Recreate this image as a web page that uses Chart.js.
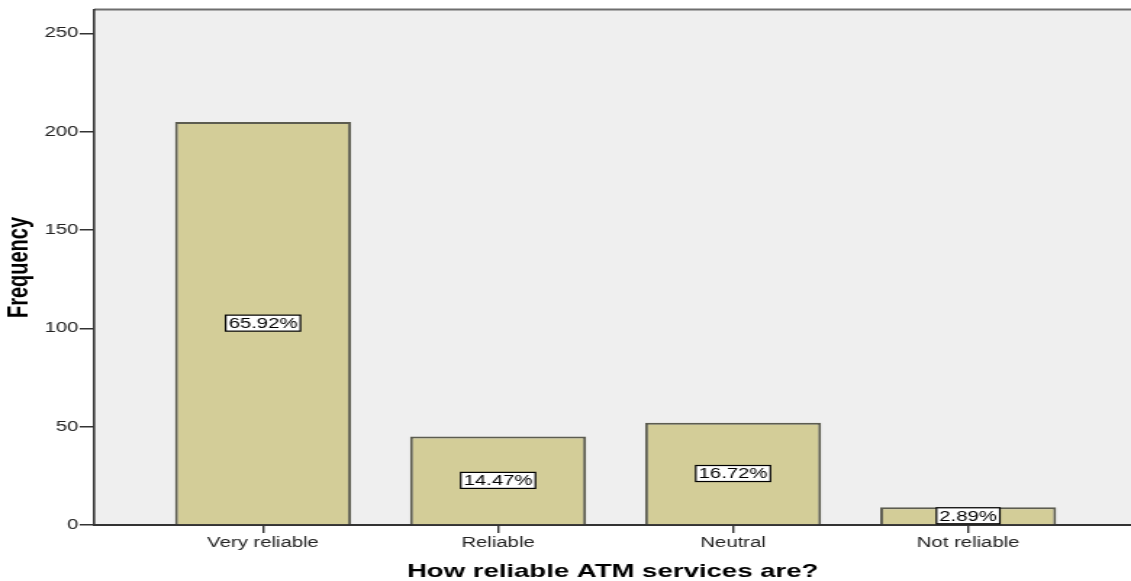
<!DOCTYPE html>
<html>
<head>
<meta charset="utf-8">
<script src="https://cdn.jsdelivr.net/npm/chart.js@4/dist/chart.umd.min.js"></script>
<style>
  html, body { margin: 0; padding: 0; background: #fff; overflow: hidden; }
  #wrap { width: 1131px; height: 581px; overflow: hidden; }
  /* the chart is laid out narrow and stretched sideways, like the exported figure */
  #chart { display: block; transform: scaleX(1.45); transform-origin: 0 0; }
</style>
</head>
<body>
<div id="wrap"><canvas id="chart" width="780" height="581"></canvas></div>
<script>
const categories = ["Very reliable", "Reliable", "Neutral", "Not reliable"];
const frequencies = [205, 45, 52, 9];
const yTicks = [0, 50, 100, 150, 200, 250];

const total = frequencies.reduce((a, b) => a + b, 0);
const percents = frequencies.map(v => (v / total * 100).toFixed(2) + "%");

const FONT = "'Liberation Sans', Arial, sans-serif";

// grey plot panel with a dark top rule
const panel = {
  id: "panel",
  beforeDraw(chart) {
    const { ctx, chartArea: a } = chart;
    ctx.save();
    ctx.fillStyle = "#efefef";
    ctx.fillRect(a.left, a.top, a.right - a.left, a.bottom - a.top);
    ctx.strokeStyle = "#6e6e6e";
    ctx.lineWidth = 2;
    ctx.beginPath();
    ctx.moveTo(a.left, a.top - 0.5);
    ctx.lineTo(a.right, a.top - 0.5);
    ctx.stroke();
    ctx.restore();
  }
};

// boxed percentage in the middle of each bar
const barLabels = {
  id: "barLabels",
  afterDatasetsDraw(chart) {
    const { ctx } = chart;
    const meta = chart.getDatasetMeta(0);
    ctx.save();
    ctx.font = "14px " + FONT;
    ctx.textAlign = "center";
    ctx.textBaseline = "middle";
    meta.data.forEach((bar, i) => {
      const text = percents[i];
      const cx = bar.x;
      const cy = (bar.y + bar.base) / 2;
      const w = ctx.measureText(text).width + 4;
      const h = 16;
      ctx.fillStyle = "#fff";
      ctx.fillRect(cx - w / 2, cy - h / 2, w, h);
      ctx.strokeStyle = "#000";
      ctx.lineWidth = 1.2;
      ctx.strokeRect(cx - w / 2, cy - h / 2, w, h);
      ctx.fillStyle = "#000";
      ctx.fillText(text, cx, cy + 1);
    });
    ctx.restore();
  }
};

new Chart(document.getElementById("chart"), {
  type: "bar",
  data: {
    datasets: [{
      data: frequencies.map((v, i) => ({ x: i, y: v })),
      backgroundColor: "#d3cd98",
      borderColor: "#5c5c50",
      borderWidth: 2,
      categoryPercentage: 1,
      barPercentage: 0.749
    }]
  },
  options: {
    responsive: false,
    animation: false,
    layout: { padding: { top: 10, left: 0, right: 0, bottom: 0 } },
    plugins: { legend: { display: false }, tooltip: { enabled: false } },
    scales: {
      x: {
        type: "linear",
        min: -0.718,
        max: 3.693,
        offset: false,
        afterBuildTicks: s => { s.ticks = categories.map((_, i) => ({ value: i })); },
        afterFit: s => { s.height = 56; },
        grid: { offset: false, drawOnChartArea: false, drawTicks: true, tickLength: 8, color: "#333", lineWidth: 1.4 },
        border: { display: true, color: "#333", width: 2 },
        ticks: {
          autoSkip: false,
          maxRotation: 0,
          padding: 2,
          color: "#222",
          font: { family: FONT, size: 14 },
          callback: v => categories[v] ?? ""
        },
        title: {
          display: true,
          text: "How reliable ATM services are?",
          color: "#000",
          font: { family: FONT, size: 19, weight: "bold", lineHeight: 1 },
          padding: { top: 0, bottom: 0 }
        }
      },
      y: {
        min: 0,
        max: 262,
        afterBuildTicks: s => { s.ticks = yTicks.map(v => ({ value: v })); },
        afterFit: s => { s.width = 65; },
        grid: { drawOnChartArea: false, drawTicks: true, tickLength: 10, color: "#333", lineWidth: 1.5 },
        border: { display: true, color: "#333", width: 1.6 },
        ticks: {
          padding: 1,
          color: "#222",
          font: { family: FONT, size: 14 }
        },
        title: {
          display: true,
          text: "Frequency",
          color: "#000",
          font: { family: "'Liberation Sans Narrow', " + FONT, size: 20, weight: "bold", lineHeight: 1 },
          padding: { top: 3, bottom: 0 }
        }
      }
    }
  },
  plugins: [panel, barLabels]
});
</script>
</body>
</html>
